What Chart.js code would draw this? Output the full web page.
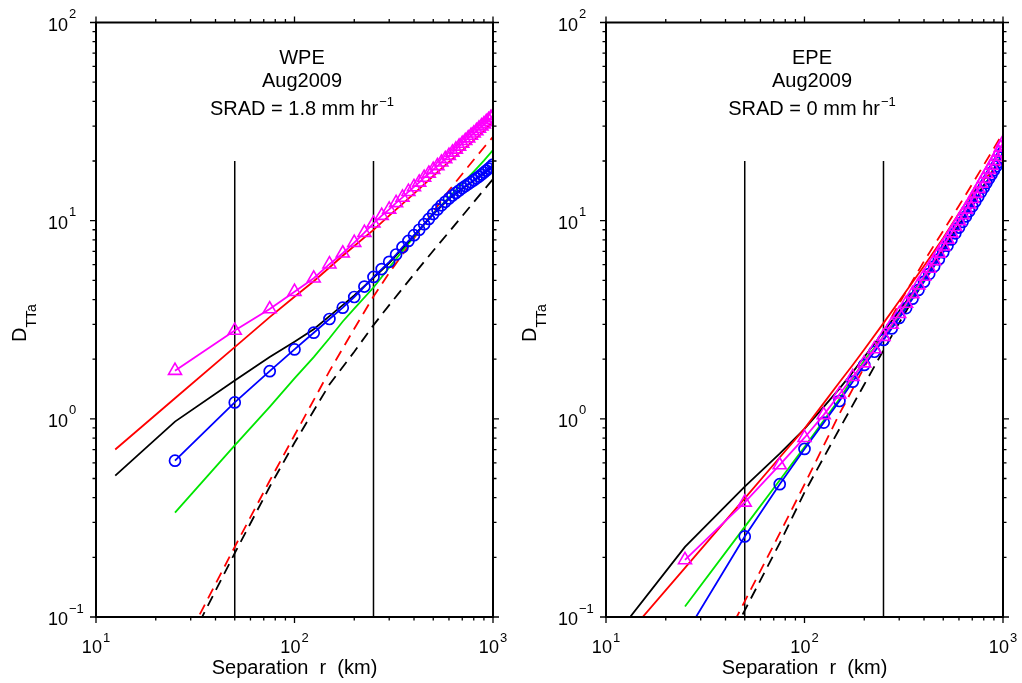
<!DOCTYPE html>
<html>
<head>
<meta charset="utf-8">
<script src="https://cdn.jsdelivr.net/npm/chart.js@4.4.0/dist/chart.umd.min.js"></script>
<style>
  html, body { margin: 0; padding: 0; background: #fff; }
  #wrap { position: relative; width: 1022px; height: 683px; }
  .panel { position: absolute; top: 0; height: 683px; }
</style>
</head>
<body>
<div id="wrap">
  <div class="panel" style="left:0;width:510px"><canvas id="wpe" width="510" height="683"></canvas></div>
  <div class="panel" style="left:510px;width:512px"><canvas id="epe" width="512" height="683"></canvas></div>
</div>
<script>
const FONT = '"Liberation Sans", Arial, Helvetica, sans-serif';

// separation r (km)
const rSep = [25, 50, 75, 100, 125, 150, 175, 200, 225, 250, 275, 300, 325, 350, 375, 400, 425, 450, 475, 500,
  525, 550, 575, 600, 625, 650, 675, 700, 725, 750, 775, 800, 825, 850, 875, 900, 925, 950, 975, 1000];
const rLine = [12.5, 25, 50, 75, 100, 125, 150, 175, 200, 250, 300, 400, 500, 600, 700, 800, 900, 1000];
const rDash = [25, 50, 75, 100, 150, 200, 250, 300, 400, 500, 600, 700, 800, 900, 1000];

// axis ticks
const xTickVals = [10, 100, 1000];
const yTickVals = [0.1, 1, 10, 100];
const markLines = [50, 250];
const markTop = 20;

// WPE, SRAD = 1.8
const wpeTitle = ["WPE", "Aug2009", "SRAD = 1.8 mm hr"];
const wpeMagenta = [1.75, 2.79, 3.58, 4.38, 5.12, 6.03, 6.85, 7.75, 8.7, 9.7, 10.6, 11.4, 12.3, 13.1, 14.0, 14.8,
  15.6, 16.5, 17.3, 18.1, 18.9, 19.7, 20.5, 21.3, 22.1, 22.9, 23.7, 24.5, 25.3, 26.1, 26.9, 27.6, 28.4, 29.2,
  30.0, 30.7, 31.5, 32.3, 33.0, 33.8];
const wpeBlue = [0.615, 1.21, 1.74, 2.24, 2.72, 3.19, 3.64, 4.12, 4.65, 5.2, 5.7, 6.2, 6.75, 7.35, 7.9, 8.45,
  9.0, 9.6, 10.2, 10.8, 11.4, 11.95, 12.45, 12.95, 13.4, 13.8, 14.2, 14.6, 14.95, 15.3, 15.65, 16.0, 16.35,
  16.7, 17.1, 17.5, 17.9, 18.3, 18.7, 19.2];
const wpeRed = [0.70, 1.27, 2.30, 3.26, 4.13, 4.95, 5.8, 6.65, 7.45, 8.98, 10.6, 13.7, 16.8, 19.8, 22.6, 25.4, 28.3, 31.8];
const wpeBlack = [0.517, 0.968, 1.56, 2.05, 2.45, 2.83, 3.3, 3.75, 4.2, 5.15, 6.1, 8.4, 10.8, 12.9, 14.5, 15.9, 17.3, 18.8];
const wpeGreen = [null, 0.336, 0.735, 1.15, 1.6, 2.05, 2.55, 3.1, 3.6, 4.6, 5.8, 8.3, 10.9, 13.1, 15.4, 17.7, 20.1, 22.7];
const wpeRedDash = [0.059, 0.226, 0.487, 0.826, 1.74, 2.85, 4.14, 5.45, 8.15, 11.1, 14.2, 17.2, 20.3, 23.4, 26.5];
const wpeBlackDash = [0.054, 0.21, 0.454, 0.757, 1.49, 2.18, 2.97, 3.75, 5.37, 7.05, 8.77, 10.55, 12.4, 14.3, 16.2];

// EPE, SRAD = 0
const epeTitle = ["EPE", "Aug2009", "SRAD = 0 mm hr"];
const epeMagenta = [0.194, 0.379, 0.585, 0.803, 1.047, 1.33, 1.63, 1.91, 2.25, 2.6, 2.99, 3.39, 3.82, 4.27, 4.73,
  5.23, 5.74, 6.27, 6.84, 7.43, 8.03, 8.65, 9.31, 9.98, 10.7, 11.4, 12.1, 12.9, 13.7, 14.5, 15.4, 16.3, 17.2,
  18.1, 19.0, 20.0, 21.0, 22.1, 23.4, 24.8];
const epeBlue = [0.081, 0.255, 0.468, 0.705, 0.957, 1.23, 1.54, 1.87, 2.18, 2.5, 2.86, 3.23, 3.62, 4.04, 4.47,
  4.92, 5.39, 5.88, 6.39, 6.92, 7.47, 8.04, 8.63, 9.23, 9.85, 10.5, 11.15, 11.83, 12.5, 13.2, 13.95, 14.7,
  15.5, 16.3, 17.1, 17.95, 18.8, 19.7, 20.8, 22.2];
const epeRed = [0.079, 0.177, 0.397, 0.638, 0.893, 1.2, 1.53, 1.87, 2.24, 3.04, 3.93, 5.91, 8.18, 10.9, 13.7, 16.1, 18.0, 19.9];
const epeBlack = [0.093, 0.226, 0.455, 0.668, 0.89, 1.15, 1.42, 1.72, 2.05, 2.75, 3.5, 5.2, 7.2, 9.5, 12.0, 14.8, 18.0, 21.6];
const epeGreen = [null, 0.113, 0.285, 0.49, 0.72, 0.98, 1.26, 1.6, 1.97, 2.6, 3.3, 5.0, 7.0, 9.3, 11.9, 14.8, 18.0, 22.0];
const epeRedDash = [0.031, 0.12, 0.264, 0.467, 1.06, 1.82, 2.75, 3.82, 6.24, 8.9, 11.9, 15.3, 19.1, 23.2, 27.7];
const epeBlackDash = [0.028, 0.108, 0.236, 0.425, 0.89, 1.49, 2.22, 3.05, 4.98, 7.1, 9.5, 12.2, 15.1, 18.3, 22.0];

function line(xs, ys, color, dash, extra) {
  return Object.assign({
    data: xs.map((x, i) => ({ x: x, y: ys[i] })),
    borderColor: color,
    borderWidth: 1.8,
    borderDash: dash || [],
    pointRadius: 0,
    fill: false
  }, extra || {});
}

// 10 with an exponent
function powLabel(ctx, exp, x, y, align, rise) {
  const base = "10";
  const sup = exp < 0 ? "\u2212" + (-exp) : String(exp);
  ctx.font = "18px " + FONT;
  const wb = ctx.measureText(base).width;
  ctx.font = "13px " + FONT;
  const ws = ctx.measureText(sup).width;
  const x0 = align === "center" ? x - (wb + ws + 1) / 2 : x - wb;
  ctx.textAlign = "left";
  ctx.textBaseline = "alphabetic";
  ctx.font = "18px " + FONT;
  ctx.fillText(base, x0, y);
  ctx.font = "13px " + FONT;
  ctx.fillText(sup, x0 + wb + 1, y - rise);
}

const frame = {
  id: "frame",
  afterDatasetsDraw(chart, args, opts) {
    const ctx = chart.ctx;
    const a = chart.chartArea;
    const x = chart.scales.x;
    const y = chart.scales.y;
    ctx.save();
    ctx.strokeStyle = "#000";
    ctx.fillStyle = "#000";

    // tick marks, outward on all four sides
    ctx.lineWidth = 1.3;
    ctx.beginPath();
    for (let e = -1; e <= 2; e++) {
      for (let k = 1; k <= 9; k++) {
        const v = k * Math.pow(10, e);
        if (v < 0.0999 || v > 100.01) continue;
        const py = y.getPixelForValue(v);
        const len = k === 1 ? 6 : 3.5;
        ctx.moveTo(a.left, py); ctx.lineTo(a.left - len, py);
        ctx.moveTo(a.right, py); ctx.lineTo(a.right + len, py);
      }
    }
    for (let e = 1; e <= 3; e++) {
      for (let k = 1; k <= 9; k++) {
        const v = k * Math.pow(10, e);
        if (v > 1000.1) continue;
        const px = x.getPixelForValue(v);
        const len = k === 1 ? 6 : 3.5;
        ctx.moveTo(px, a.bottom); ctx.lineTo(px, a.bottom + len);
        ctx.moveTo(px, a.top); ctx.lineTo(px, a.top - len);
      }
    }
    ctx.stroke();

    ctx.lineWidth = 2;
    ctx.strokeRect(a.left, a.top, a.right - a.left, a.bottom - a.top);

    // tick labels
    yTickVals.forEach(v => {
      powLabel(ctx, Math.round(Math.log10(v)), a.left - 28, y.getPixelForValue(v) + 8, "right", 12.5);
    });
    xTickVals.forEach(v => {
      powLabel(ctx, Math.round(Math.log10(v)), x.getPixelForValue(v), a.bottom + 36, "center", 11);
    });

    // axis titles
    ctx.font = "20px " + FONT;
    ctx.textAlign = "center";
    ctx.fillText("Separation  r  (km)", (a.left + a.right) / 2, a.bottom + 57);

    ctx.save();
    ctx.translate(26, 342);
    ctx.rotate(-Math.PI / 2);
    ctx.textAlign = "left";
    ctx.font = "20px " + FONT;
    ctx.fillText("D", 0, 0);
    const wd = ctx.measureText("D").width;
    ctx.font = "14px " + FONT;
    ctx.fillText("TTa", wd, 10);
    ctx.restore();

    // panel title
    const t = opts.lines;
    const cx = 302;
    ctx.font = "20px " + FONT;
    ctx.textAlign = "center";
    ctx.fillText(t[0], cx, 64);
    ctx.fillText(t[1], cx, 87);
    const w3 = ctx.measureText(t[2]).width;
    ctx.font = "13px " + FONT;
    const sup = "\u22121";
    const ws = ctx.measureText(sup).width;
    const x0 = cx - (w3 + ws + 1) / 2;
    ctx.textAlign = "left";
    ctx.font = "20px " + FONT;
    ctx.fillText(t[2], x0, 115);
    ctx.font = "13px " + FONT;
    ctx.fillText(sup, x0 + w3 + 1, 106);

    ctx.restore();
  }
};

function makeChart(id, width, title, s) {
  const datasets = [
    line(rSep, s.magenta, "#ff00ff", null, {
      pointRadius: 7.5, pointStyle: "triangle", pointBorderWidth: 1.6,
      pointBorderColor: "#ff00ff", pointBackgroundColor: "rgba(0,0,0,0)"
    }),
    line(rSep, s.blue, "#0000ff", null, {
      pointRadius: 5.5, pointStyle: "circle", pointBorderWidth: 1.7,
      pointBorderColor: "#0000ff", pointBackgroundColor: "rgba(0,0,0,0)"
    }),
    line(rLine, s.red, "#ff0000"),
    line(rLine, s.black, "#000000"),
    line(rLine, s.green, "#00e600"),
    line(rDash, s.redDash, "#ff0000", [11, 7]),
    line(rDash, s.blackDash, "#000000", [11, 7])
  ];
  markLines.forEach(v => {
    datasets.push(line([v, v], [yTickVals[0], markTop], "#000000", null, { borderWidth: 1.5 }));
  });

  return new Chart(document.getElementById(id), {
    type: "line",
    data: { datasets: datasets },
    options: {
      responsive: false,
      animation: false,
      devicePixelRatio: 1,
      layout: { padding: { left: 96, right: width - 493, top: 22.5, bottom: 66 } },
      elements: { line: { tension: 0 } },
      plugins: {
        legend: { display: false },
        tooltip: { enabled: false },
        frame: { lines: title }
      },
      scales: {
        x: { type: "logarithmic", min: xTickVals[0], max: xTickVals[xTickVals.length - 1], display: false },
        y: { type: "logarithmic", min: yTickVals[0], max: yTickVals[yTickVals.length - 1], display: false }
      }
    },
    plugins: [frame]
  });
}

makeChart("wpe", 510, wpeTitle, {
  magenta: wpeMagenta, blue: wpeBlue, red: wpeRed, black: wpeBlack, green: wpeGreen,
  redDash: wpeRedDash, blackDash: wpeBlackDash
});
makeChart("epe", 512, epeTitle, {
  magenta: epeMagenta, blue: epeBlue, red: epeRed, black: epeBlack, green: epeGreen,
  redDash: epeRedDash, blackDash: epeBlackDash
});
</script>
</body>
</html>
